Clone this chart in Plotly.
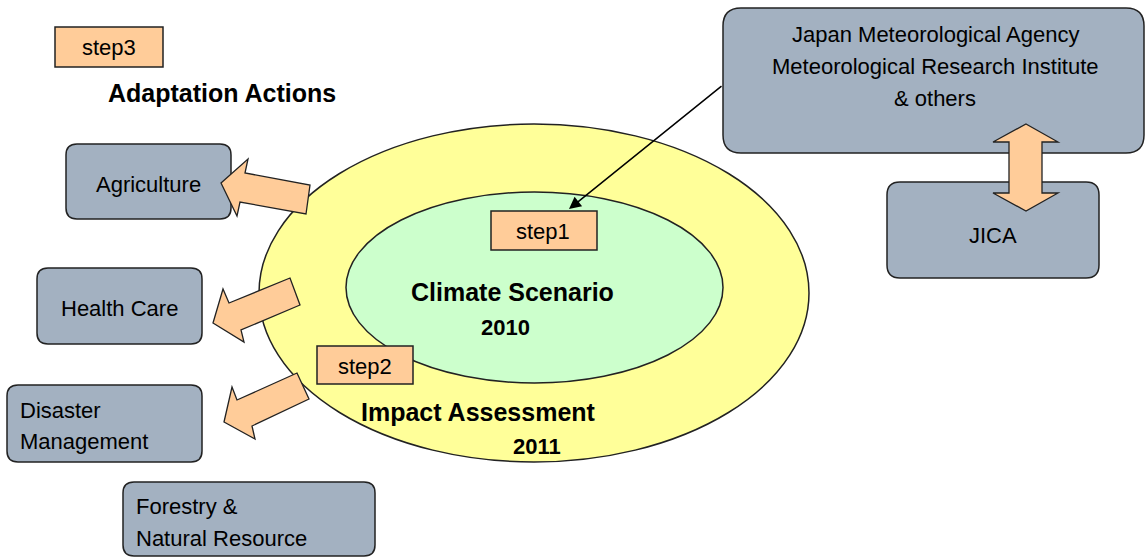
import plotly.graph_objects as go

# ---------------- content ----------------
agency_lines = ["Japan Meteorological Agency", "Meteorological Research Institute", "& others"]
partner_label = "JICA"
sector_lines = [["Agriculture"], ["Health Care"], ["Disaster", "Management"], ["Forestry &", "Natural Resource"]]
step_labels = ["step1", "step2", "step3"]
stage_titles = ["Climate Scenario", "Impact Assessment", "Adaptation Actions"]
stage_years = ["2010", "2011"]

# ---------------- geometry (pixel canvas) ----------------
W, H = 1145, 557
FONT = "Liberation Sans, Arial, sans-serif"
GRAY = "#A3B1C1"
ORANGE = "#FFCC99"
YELLOW = "#FFFF99"
GREEN = "#CCFFCC"
EDGE = "#222222"

agency_box = (723, 8, 1144, 153)
agency_text_pos = [(935, 34), (935, 66), (935, 98)]
partner_box = (887, 182, 1099, 278)
partner_text_pos = (993, 235)

sector_boxes = [(66, 144, 231, 219), (37, 268, 202, 344), (7, 385, 202, 462), (123, 482, 375, 556)]
sector_text_pos = [[(148, 184, "center")], [(119, 308, "center")],
                   [(18, 410, "left"), (18, 441, "left")],
                   [(134, 506, "left"), (134, 538, "left")]]

step_boxes = [(491, 211, 597, 250), (317, 346, 413, 384), (55, 27, 163, 67)]
step_text_pos = [(543, 231), (365, 366), (109, 47)]

outer_ellipse = (259, 124, 809, 462)
inner_ellipse = (346, 192, 723, 383)

title_pos = [(512, 292), (478, 412), (222, 93)]
year_pos = [(505, 327), (537, 446)]

side_arrows = [
    [(221, 183), (248, 159), (245, 173), (310, 185), (306, 214), (240, 202), (237, 216)],
    [(213, 323), (223, 289), (229, 303), (290, 278), (300, 305), (241, 330), (244, 342)],
    [(224, 422), (232, 387), (237, 400), (297, 373), (309, 399), (252, 426), (255, 439)],
]
double_arrow = [(1026, 124), (1058, 142), (1042, 142), (1042, 193), (1058, 193), (1026, 211),
                (993, 193), (1009, 193), (1009, 142), (993, 142)]
link_tail = (723, 85)
link_tip = (569, 209)


def rrect(b, r):
    x0, y0, x1, y1 = b
    return (f"M{x0 + r},{y0} L{x1 - r},{y0} Q{x1},{y0} {x1},{y0 + r} "
            f"L{x1},{y1 - r} Q{x1},{y1} {x1 - r},{y1} L{x0 + r},{y1} "
            f"Q{x0},{y1} {x0},{y1 - r} L{x0},{y0 + r} Q{x0},{y0} {x0 + r},{y0} Z")


def poly(pts):
    return "M" + " L".join(f"{x},{y}" for x, y in pts) + " Z"


shapes = []
shapes.append(dict(type="circle", xref="x", yref="y", x0=outer_ellipse[0], y0=outer_ellipse[1],
                   x1=outer_ellipse[2], y1=outer_ellipse[3], fillcolor=YELLOW,
                   line=dict(color=EDGE, width=1.5), layer="above"))
shapes.append(dict(type="circle", xref="x", yref="y", x0=inner_ellipse[0], y0=inner_ellipse[1],
                   x1=inner_ellipse[2], y1=inner_ellipse[3], fillcolor=GREEN,
                   line=dict(color=EDGE, width=1.5), layer="above"))
shapes.append(dict(type="path", path=rrect(agency_box, 18), fillcolor=GRAY,
                   line=dict(color=EDGE, width=1.5), layer="above"))
shapes.append(dict(type="path", path=rrect(partner_box, 13), fillcolor=GRAY,
                   line=dict(color=EDGE, width=1.5), layer="above"))
for b in sector_boxes:
    shapes.append(dict(type="path", path=rrect(b, 11), fillcolor=GRAY,
                       line=dict(color=EDGE, width=1.5), layer="above"))
for a in side_arrows:
    shapes.append(dict(type="path", path=poly(a), fillcolor=ORANGE,
                       line=dict(color=EDGE, width=1.3), layer="above"))
shapes.append(dict(type="path", path=poly(double_arrow), fillcolor=ORANGE,
                   line=dict(color=EDGE, width=1.3), layer="above"))
for b in step_boxes:
    shapes.append(dict(type="rect", x0=b[0], y0=b[1], x1=b[2], y1=b[3], fillcolor=ORANGE,
                       line=dict(color=EDGE, width=1.5), layer="above"))

ann = []


def txt(x, y, s, size, bold=False, anchor="center"):
    ann.append(dict(x=x, y=y, text=f"<b>{s}</b>" if bold else s, showarrow=False,
                    xanchor=anchor, yanchor="middle", align=anchor,
                    font=dict(family=FONT, size=size, color="black")))


for (x, y), s in zip(agency_text_pos, agency_lines):
    txt(x, y, s, 22)
txt(partner_text_pos[0], partner_text_pos[1], partner_label, 22)
for lines, poss in zip(sector_lines, sector_text_pos):
    for s, (x, y, a) in zip(lines, poss):
        txt(x, y, s, 22, anchor=a)
for (x, y), s in zip(step_text_pos, step_labels):
    txt(x, y, s, 22)
for (x, y), s in zip(title_pos, stage_titles):
    txt(x, y, s, 25, bold=True)
for (x, y), s in zip(year_pos, stage_years):
    txt(x, y, s, 22, bold=True)

ann.append(dict(x=link_tip[0], y=link_tip[1], ax=link_tail[0], ay=link_tail[1],
                xref="x", yref="y", axref="x", ayref="y", text="", showarrow=True,
                arrowhead=2, arrowsize=1.6, arrowwidth=1.5, arrowcolor="black", standoff=0))

fig = go.Figure()
fig.add_trace(go.Scatter(x=[0, W], y=[0, H], mode="markers", marker=dict(opacity=0),
                         hoverinfo="skip", showlegend=False))
fig.update_layout(
    width=W, height=H, margin=dict(l=0, r=0, t=0, b=0),
    paper_bgcolor="white", plot_bgcolor="white",
    xaxis=dict(range=[0, W], visible=False, fixedrange=True),
    yaxis=dict(range=[H, 0], visible=False, fixedrange=True),
    shapes=shapes, annotations=ann, showlegend=False,
)
fig.write_html("out.html", config={"displayModeBar": False},
               post_script="document.body.style.margin='0';document.body.style.overflow='hidden';")
